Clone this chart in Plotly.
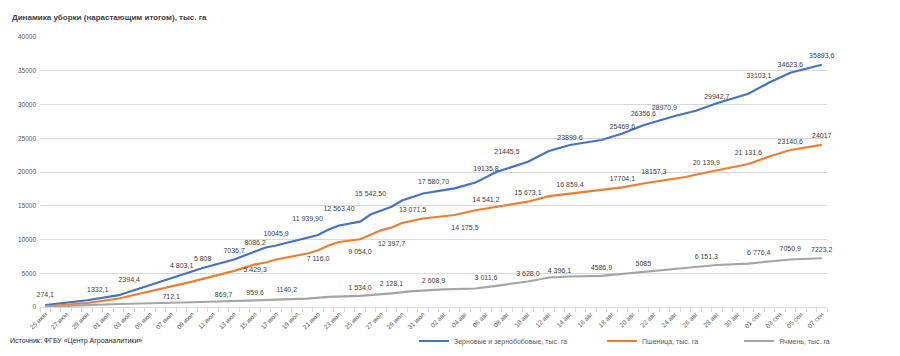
import plotly.graph_objects as go

# ---------------- data ----------------
title_text = "Динамика уборки (нарастающим итогом), тыс. га"
source_text = "Источник: ФГБУ «Центр Агроаналитики»"

names = ["Зерновые и зернобобовые, тыс. га", "Пшеница, тыс. га", "Ячмень, тыс. га"]

# line readings (cumulative harvested area, thousand ha)
grain_dates = ["2023-06-25", "2023-06-29", "2023-07-02", "2023-07-09", "2023-07-10", "2023-07-13",
               "2023-07-15", "2023-07-16", "2023-07-17", "2023-07-21", "2023-07-22", "2023-07-23",
               "2023-07-25", "2023-07-26", "2023-07-28", "2023-07-29", "2023-07-31", "2023-08-02",
               "2023-08-03", "2023-08-05", "2023-08-07", "2023-08-10", "2023-08-12", "2023-08-14",
               "2023-08-17", "2023-08-19", "2023-08-21", "2023-08-24", "2023-08-26", "2023-08-28",
               "2023-08-31", "2023-09-02", "2023-09-04", "2023-09-07"]
grain_vals = [274.1, 1000, 1750, 5230, 5780, 7040,
              8240, 8815, 9110, 10670, 11480, 12070,
              12640, 13700, 14860, 15780, 16815, 17260,
              17585, 18440, 20000, 21526, 23110, 24000,
              24740, 25700, 26920, 28300, 29080, 30180,
              31600, 33260, 34710, 35893.6]

wheat_dates = ["2023-06-25", "2023-06-29", "2023-07-02", "2023-07-09", "2023-07-13", "2023-07-15",
               "2023-07-16", "2023-07-17", "2023-07-20", "2023-07-21", "2023-07-22", "2023-07-23",
               "2023-07-25", "2023-07-27", "2023-07-28", "2023-07-29", "2023-07-31", "2023-08-02",
               "2023-08-03", "2023-08-05", "2023-08-07", "2023-08-10", "2023-08-12", "2023-08-17",
               "2023-08-19", "2023-08-21", "2023-08-25", "2023-08-27", "2023-08-31", "2023-09-02",
               "2023-09-04", "2023-09-07"]
wheat_vals = [60, 590, 1260, 3750, 5350, 6310,
              6590, 7040, 7925, 8400, 9110, 9630,
              10030, 11360, 11780, 12440, 13110, 13410,
              13630, 14340, 14860, 15600, 16415, 17390,
              17730, 18300, 19260, 19930, 21185, 22300,
              23260, 24017]

barley_dates = ["2023-06-25", "2023-07-02", "2023-07-09", "2023-07-13", "2023-07-15", "2023-07-17",
                "2023-07-20", "2023-07-22", "2023-07-25", "2023-07-28", "2023-07-30", "2023-08-02",
                "2023-08-05", "2023-08-07", "2023-08-10", "2023-08-12", "2023-08-14", "2023-08-17",
                "2023-08-19", "2023-08-22", "2023-08-26", "2023-08-28", "2023-08-31", "2023-09-04",
                "2023-09-07"]
barley_vals = [50, 444, 700, 920, 1010, 1100,
               1230, 1510, 1660, 2030, 2340, 2620,
               2740, 3140, 3780, 4370, 4520, 4620,
               4920, 5330, 5880, 6220, 6440, 7040,
               7223.2]

# data labels as printed on the chart
grain_label_dates = ["2023-06-25", "2023-06-30", "2023-07-03", "2023-07-08", "2023-07-10", "2023-07-13",
                     "2023-07-15", "2023-07-17", "2023-07-20", "2023-07-23", "2023-07-26", "2023-08-01",
                     "2023-08-06", "2023-08-08", "2023-08-14", "2023-08-19", "2023-08-21", "2023-08-23",
                     "2023-08-28", "2023-09-01", "2023-09-04", "2023-09-07"]
grain_label_text = ["274,1", "1332,1", "2394,4", "4 803,1", "5 808", "7036,7",
                    "8086,2", "10045,9", "11 939,90", "12 563,40", "15 542,50", "17 580,70",
                    "19135,8", "21445,5", "23899,6", "25469,6", "26356,6", "28970,9",
                    "29942,7", "33103,1", "34623,6", "35893,6"]

wheat_label_dates = ["2023-07-15", "2023-07-21", "2023-07-25", "2023-07-28", "2023-07-30", "2023-08-04",
                     "2023-08-06", "2023-08-10", "2023-08-14", "2023-08-19", "2023-08-22", "2023-08-27",
                     "2023-08-31", "2023-09-04", "2023-09-07"]
wheat_label_text = ["5 429,3", "7 116,0", "9 054,0", "12 397,7", "13 071,5", "14 175,5",
                    "14 541,2", "15 673,1", "16 859,4", "17704,1", "18157,3", "20 139,9",
                    "21 131,6", "23140,6", "24017"]

barley_label_dates = ["2023-07-07", "2023-07-12", "2023-07-15", "2023-07-18", "2023-07-25", "2023-07-28",
                      "2023-08-01", "2023-08-06", "2023-08-10", "2023-08-13", "2023-08-17", "2023-08-21",
                      "2023-08-27", "2023-09-01", "2023-09-04", "2023-09-07"]
barley_label_text = ["712,1", "869,7", "959,6", "1140,2", "1 534,0", "2 128,1",
                     "2 608,9", "3 011,6", "3 628,0", "4 396,1", "4586,9", "5085",
                     "6 151,3", "6 776,4", "7050,9", "7223,2"]

tick_dates = ["2023-06-25", "2023-06-27", "2023-06-29", "2023-07-01", "2023-07-03", "2023-07-05",
              "2023-07-07", "2023-07-09", "2023-07-11", "2023-07-13", "2023-07-15", "2023-07-17",
              "2023-07-19", "2023-07-21", "2023-07-23", "2023-07-25", "2023-07-27", "2023-07-29",
              "2023-07-31", "2023-08-02", "2023-08-04", "2023-08-06", "2023-08-08", "2023-08-10",
              "2023-08-12", "2023-08-14", "2023-08-16", "2023-08-18", "2023-08-20", "2023-08-22",
              "2023-08-24", "2023-08-26", "2023-08-28", "2023-08-30", "2023-09-01", "2023-09-03",
              "2023-09-05", "2023-09-07"]
tick_labels = ["25 июн", "27 июн", "29 июн", "01 июл", "03 июл", "05 июл",
               "07 июл", "09 июл", "11 июл", "13 июл", "15 июл", "17 июл",
               "19 июл", "21 июл", "23 июл", "25 июл", "27 июл", "29 июл",
               "31 июл", "02 авг", "04 авг", "06 авг", "08 авг", "10 авг",
               "12 авг", "14 авг", "16 авг", "18 авг", "20 авг", "22 авг",
               "24 авг", "26 авг", "28 авг", "30 авг", "01 сен", "03 сен",
               "05 сен", "07 сен"]


def num(s):
    return float(s.replace(" ", "").replace(",", "."))


# ---------------- style ----------------
FONT = "Liberation Sans, Arial, sans-serif"
colors = ["#4472C4", "#ED7D31", "#A5A5A5"]
LBL = "#404040"
AX = "#595959"
GRID = "#D9D9D9"

# label placement (style): position + invisible marker size acting as text offset
grain_label_pos = ["top center"] * len(grain_label_text)
grain_label_gap = [9, 6, 10, 6, 6, 6, 7, 1, 5, 14, 5, 2, 6, 9, 5, 6, 16, 0, 5, 4, 6, 6]
wheat_label_pos = ["middle center", "middle center", "bottom center", "bottom center", "top center",
                   "bottom center", "top center", "top center", "top center", "top center",
                   "top center", "top center", "top center", "top center", "top center"]
wheat_label_gap = [6, 6, 2.5, 27, 7, 20, 6, 6, 6, 6, 12, 6, 11, 6, 6]
barley_label_pos = ["top center"] * len(barley_label_text)
barley_label_gap = [1, 3, 5, 8, 6, 6, 6, 6, 6, 3, 6, 6, 6, 6, 9, 6]

# plot area in px
L, R, T, B = 40, 827, 37, 307
W, H = 900, 356


def px_x(px):
    return (px - L) / (R - L)


def px_y(py):
    return (B - py) / (B - T)


fig = go.Figure()

lines = [(grain_dates, grain_vals), (wheat_dates, wheat_vals), (barley_dates, barley_vals)]
legends = ["legend", "legend2", "legend3"]
for (xs, ys), nm, c, lg in zip(lines, names, colors, legends):
    fig.add_trace(go.Scatter(x=xs, y=ys, mode="lines", name=nm, legend=lg,
                             line=dict(color=c, width=2.2), hoverinfo="skip"))

label_sets = [
    (grain_label_dates, grain_label_text, grain_label_pos, grain_label_gap),
    (wheat_label_dates, wheat_label_text, wheat_label_pos, wheat_label_gap),
    (barley_label_dates, barley_label_text, barley_label_pos, barley_label_gap),
]
for ds, ts, pos, gap in label_sets:
    fig.add_trace(go.Scatter(x=ds, y=[num(t) for t in ts], mode="markers+text", text=ts,
                             marker=dict(size=gap, opacity=0),
                             textposition=pos, showlegend=False, cliponaxis=False,
                             textfont=dict(family=FONT, size=7, color=LBL), hoverinfo="skip"))

legend_common = dict(orientation="h", xanchor="left", yanchor="middle", itemwidth=30,
                     font=dict(family=FONT, size=7, color=AX), bgcolor="rgba(0,0,0,0)")

fig.update_layout(
    width=W, height=H,
    margin=dict(l=L, r=W - R, t=T, b=H - B, autoexpand=False),
    paper_bgcolor="white", plot_bgcolor="white",
    font=dict(family=FONT),
    title=dict(text="<b>" + title_text + "</b>", x=12 / W, xanchor="left",
               y=1 - 17 / H, yanchor="middle",
               font=dict(family=FONT, size=8, color=LBL)),
    xaxis=dict(type="date", range=["2023-06-24 12:00", "2023-09-07 12:00"], automargin=False,
               tickmode="array", tickvals=tick_dates, ticktext=tick_labels,
               tickangle=-45, tickfont=dict(family=FONT, size=6.5, color=AX),
               showgrid=False, showline=True, linecolor=GRID, linewidth=1,
               ticks="", zeroline=False,
               minor=dict(ticks="outside", dtick=86400000, tick0="2023-06-24 12:00",
                          ticklen=4, tickcolor=GRID, showgrid=False)),
    yaxis=dict(range=[0, 40000], dtick=5000, tickformat="d", automargin=False,
               tickfont=dict(family=FONT, size=6.5, color=AX), ticklabelstandoff=3,
               showgrid=True, gridcolor=GRID, gridwidth=1, zeroline=False,
               showline=False, ticks=""),
    legend=dict(x=px_x(414), y=px_y(341), **legend_common),
    legend2=dict(x=px_x(602), y=px_y(341), **legend_common),
    legend3=dict(x=px_x(739), y=px_y(341), **legend_common),
    showlegend=True,
)

fig.add_annotation(text=source_text, xref="paper", yref="paper",
                   x=px_x(8), y=px_y(341), xanchor="left", yanchor="middle",
                   showarrow=False, font=dict(family=FONT, size=7, color="#262626"))

fig.write_html("out.html", config={"displayModeBar": False},
               post_script="document.body.style.margin='0px';")
